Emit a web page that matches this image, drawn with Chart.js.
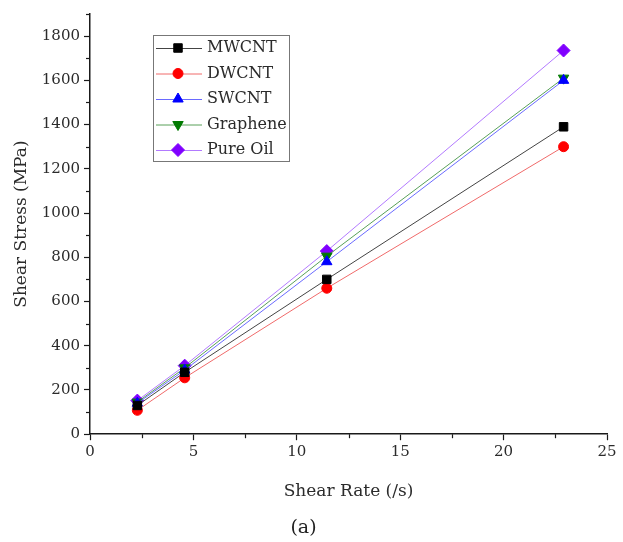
<!DOCTYPE html>
<html>
<head>
<meta charset="utf-8">
<script src="https://cdn.jsdelivr.net/npm/chart.js@4/dist/chart.umd.min.js"></script>
<style>
html,body{margin:0;padding:0;background:#fff;}
canvas{display:block;}
</style>
</head>
<body>
<canvas id="c" width="623" height="542"></canvas>
<script>
// ---- data ----
const shearRate = [2.29, 4.58, 11.45, 22.9];
const seriesNames = ["MWCNT", "DWCNT", "SWCNT", "Graphene", "Pure Oil"];
const mwcnt    = [130, 280, 700, 1390];
const dwcnt    = [108, 255, 660, 1300];
const swcnt    = [140, 290, 780, 1600];
const graphene = [145, 300, 805, 1610];
const pureOil  = [152, 310, 828, 1735];
const xTicks = [0, 5, 10, 15, 20, 25];
const yTicks = [0, 200, 400, 600, 800, 1000, 1200, 1400, 1600, 1800];

const seriesValues = [mwcnt, dwcnt, swcnt, graphene, pureOil];
const styles = [
  {color: '#000000', line: '#444444', pointStyle: 'rect',     radius: 6,   rotation: 0},
  {color: '#ff0000', line: '#f06a6a', pointStyle: 'circle',   radius: 5,   rotation: 0},
  {color: '#0000ff', line: '#6a6aff', pointStyle: 'triangle', radius: 6,   rotation: 0},
  {color: '#007a00', line: '#58a058', pointStyle: 'triangle', radius: 6,   rotation: 180},
  {color: '#8000ff', line: '#b27aff', pointStyle: 'rectRot',  radius: 6.5, rotation: 0}
];

const datasets = seriesNames.map((name, i) => ({
  label: name,
  data: shearRate.map((x, j) => ({x: x, y: seriesValues[i][j]})),
  showLine: true,
  borderColor: styles[i].line,
  borderWidth: 1,
  backgroundColor: styles[i].color,
  pointBackgroundColor: styles[i].color,
  pointBorderColor: styles[i].color,
  pointBorderWidth: 1,
  pointStyle: styles[i].pointStyle,
  pointRotation: styles[i].rotation,
  pointRadius: styles[i].radius,
  pointHoverRadius: styles[i].radius
}));

const FONT = "'DejaVu Serif', 'Liberation Serif', serif";
const AXIS = '#1a1a1a';
const TEXT = '#2b2b2b';

// minor ticks plugin
const minorTicks = {
  id: 'minorTicks',
  afterDraw(chart) {
    const ctx = chart.ctx;
    const xs = chart.scales.x, ys = chart.scales.y;
    ctx.save();
    ctx.strokeStyle = AXIS;
    ctx.lineWidth = 1.2;
    const yb = ys.getPixelForValue(0);
    for (let i = 0; i < xTicks.length - 1; i++) {
      const v = (xTicks[i] + xTicks[i + 1]) / 2;
      const px = Math.round(xs.getPixelForValue(v)) + 0.5;
      ctx.beginPath(); ctx.moveTo(px, yb); ctx.lineTo(px, yb + 4); ctx.stroke();
    }
    const xl = xs.getPixelForValue(0);
    for (let i = 0; i < yTicks.length; i++) {
      const v = yTicks[i] + 100;
      const py = Math.round(ys.getPixelForValue(v)) + 0.5;
      ctx.beginPath(); ctx.moveTo(xl, py); ctx.lineTo(xl - 4, py); ctx.stroke();
    }
    ctx.restore();
  }
};

// framed legend with line + marker samples
const boxLegend = {
  id: 'boxLegend',
  afterDraw(chart) {
    const ctx = chart.ctx;
    const left = 153, top = 35, w = 136, rowH = 25.5, h = 126;
    ctx.save();
    ctx.fillStyle = '#ffffff';
    ctx.fillRect(left, top, w, h);
    ctx.strokeStyle = '#777777';
    ctx.lineWidth = 1;
    ctx.strokeRect(left + 0.5, top + 0.5, w, h);
    ctx.font = "16px " + FONT;
    ctx.textBaseline = 'middle';
    chart.data.datasets.forEach((ds, i) => {
      const y = top + 13 + i * rowH;
      ctx.strokeStyle = ds.borderColor;
      ctx.lineWidth = 1;
      ctx.beginPath(); ctx.moveTo(left + 3, y + 0.5); ctx.lineTo(left + 49, y + 0.5); ctx.stroke();
      ctx.fillStyle = ds.pointBackgroundColor;
      ctx.strokeStyle = ds.pointBorderColor;
      Chart.helpers.drawPoint(ctx, {
        pointStyle: ds.pointStyle, rotation: ds.pointRotation,
        radius: ds.pointRadius, borderWidth: 1
      }, left + 25, y);
      ctx.fillStyle = TEXT;
      ctx.fillText(ds.label, left + 54, y);
    });
    ctx.restore();
  }
};

new Chart(document.getElementById('c'), {
  type: 'scatter',
  data: {datasets: datasets},
  plugins: [minorTicks, boxLegend],
  options: {
    responsive: false,
    animation: false,
    devicePixelRatio: 1,
    layout: {padding: {top: 14, right: 16, left: 0, bottom: 0}},
    plugins: {
      legend: {display: false},
      tooltip: {enabled: false},
      title: {
        display: true, text: '(a)', position: 'bottom', color: '#222',
        font: {family: FONT, size: 19, weight: 'normal'},
        padding: {top: 7, bottom: 3}
      }
    },
    scales: {
      x: {
        type: 'linear', min: 0, max: 25,
        afterFit(s) { s.height = 75; },
        afterBuildTicks(s) { s.ticks = xTicks.map(v => ({value: v})); },
        ticks: {color: TEXT, font: {family: FONT, size: 15}, padding: 3, maxRotation: 0,
                callback: v => String(v)},
        grid: {display: true, drawOnChartArea: false, drawTicks: true, tickLength: 6, tickColor: AXIS, tickWidth: 1.2},
        border: {display: true, color: AXIS, width: 1.5},
        title: {display: true, text: 'Shear Rate (/s)', color: TEXT, font: {family: FONT, size: 17}, padding: {top: 7, bottom: 7}}
      },
      y: {
        type: 'linear', min: 0, max: 1900,
        afterFit(s) { s.width = 90; },
        afterBuildTicks(s) { s.ticks = yTicks.map(v => ({value: v})); },
        ticks: {color: TEXT, font: {family: FONT, size: 15}, padding: 4,
                callback: v => String(v)},
        grid: {display: true, drawOnChartArea: false, drawTicks: true, tickLength: 6, tickColor: AXIS, tickWidth: 1.2},
        border: {display: true, color: AXIS, width: 1.5},
        title: {display: true, text: 'Shear Stress (MPa)', color: TEXT, font: {family: FONT, size: 17}, padding: {top: 11, bottom: 11}}
      }
    }
  }
});
</script>
</body>
</html>
